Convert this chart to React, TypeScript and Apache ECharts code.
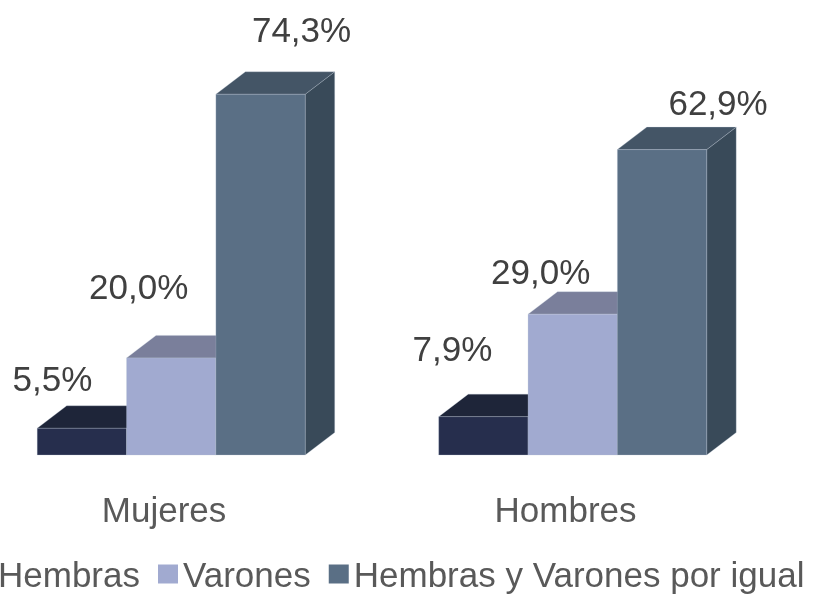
import React, { useEffect, useRef } from "react";
import * as echarts from "echarts";

const categories = ["Mujeres", "Hombres"];
const seriesNames = ["Hembras", "Varones", "Hembras y Varones por igual"];
const hembras = [5.5, 7.9];
const varones = [20.0, 29.0];
const ambos = [74.3, 62.9];
const seriesValues = [hembras, varones, ambos];

// styling
const frontColors = ["#262e4d", "#a1aad0", "#5a6f85"];
const topColors = ["#1e2539", "#7a7f9b", "#445566"];
const sideColors = ["#1a2032", "#6d7391", "#394a59"];
// manual label offsets (relative to bar front-top centre), per series per category
const labelOffsets = [
  [[-29.5, -50], [-31, -68]],
  [[-32.5, -71], [-32, -43]],
  [[41, -65], [56, -47]],
];
const FONT = '"Liberation Sans", Arial, sans-serif';

export default function App() {
  const ref = useRef<HTMLDivElement>(null);
  useEffect(() => {
    if (!ref.current) return;
    const chart = echarts.init(ref.current, null, { renderer: "svg" });
    const DX = 29.5;
    const DY = -22.5;
    const makeSeries = (si: number) => ({
      type: "custom",
      name: seriesNames[si],
      itemStyle: { color: frontColors[si] },
      data: seriesValues[si].map((v, ci) => [ci, v]),
      encode: { x: 0, y: 1 },
      z: 2 + si,
      renderItem: (params: any, api: any) => {
        const ci = api.value(0);
        const val = api.value(1);
        const top = api.coord([ci, val]);
        const base = api.coord([ci, 0]);
        const band = api.size([1, 0])[0];
        const bw = band * 0.2225;
        const start = top[0] - band * 0.3158;
        const x0 = start + si * bw;
        const x1 = x0 + bw;
        const yT = top[1];
        const yB = base[1];
        const off = labelOffsets[si][ci];
        const edge = "rgba(190,200,215,0.35)";
        return {
          type: "group",
          children: [
            {
              type: "polygon",
              shape: { points: [[x1, yT], [x1 + DX, yT + DY], [x1 + DX, yB + DY], [x1, yB]] },
              style: { fill: sideColors[si], stroke: edge, lineWidth: 0.8 },
            },
            {
              type: "polygon",
              shape: { points: [[x0, yT], [x0 + DX, yT + DY], [x1 + DX, yT + DY], [x1, yT]] },
              style: { fill: topColors[si], stroke: edge, lineWidth: 0.8 },
            },
            {
              type: "rect",
              shape: { x: x0, y: yT, width: bw, height: yB - yT },
              style: { fill: frontColors[si], stroke: edge, lineWidth: 0.8 },
            },
            {
              type: "text",
              x: (x0 + x1) / 2 + off[0],
              y: yT + off[1],
              style: {
                text: val.toFixed(1).replace(".", ",") + "%",
                align: "center",
                verticalAlign: "middle",
                font: `35px ${FONT}`,
                fill: "#404040",
              },
            },
          ],
        };
      },
    });
    chart.setOption({
      animation: false,
      grid: {
        left: -36.75,
        right: 49.75,
        top: 66.6,
        bottom: 139,
        containLabel: false,
        outerBoundsMode: "none",
      },
      xAxis: {
        type: "category",
        data: categories,
        axisLine: { show: false },
        axisTick: { show: false },
        splitLine: { show: false },
        axisLabel: { fontSize: 35, color: "#595959", fontFamily: FONT, margin: 37 },
      },
      yAxis: { type: "value", min: 0, max: 80, show: false },
      legend: {
        left: -32,
        top: 551,
        icon: "rect",
        itemWidth: 20,
        itemHeight: 19,
        itemGap: 18,
        textStyle: { fontSize: 35, color: "#595959", fontFamily: FONT, lineHeight: 36 },
        data: seriesNames,
      },
      series: [0, 1, 2].map(makeSeries),
    });
    return () => chart.dispose();
  }, []);
  return <div ref={ref} style={{ width: 816, height: 594, position: "fixed", left: 0, top: 0 }} />;
}
